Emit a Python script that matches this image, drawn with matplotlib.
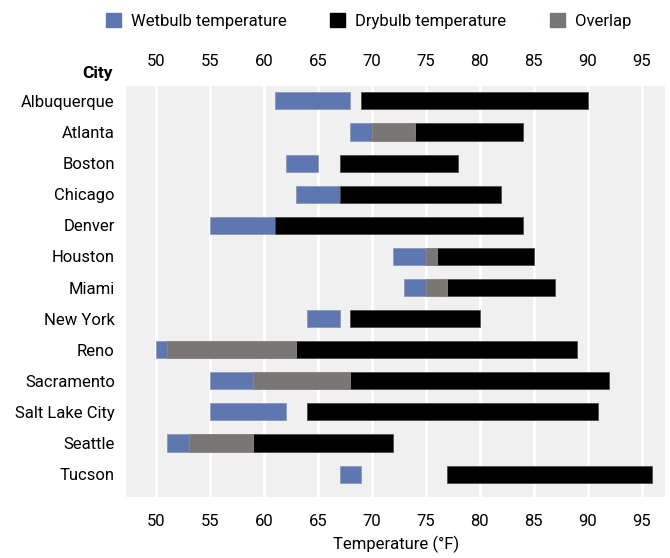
import matplotlib
matplotlib.use("Agg")
import matplotlib.pyplot as plt
from matplotlib.patches import Patch

plt.rcParams['font.family'] = ['Roboto', 'DejaVu Sans']

cities = ["Albuquerque", "Atlanta", "Boston", "Chicago", "Denver", "Houston", "Miami",
          "New York", "Reno", "Sacramento", "Salt Lake City", "Seattle", "Tucson"]
wet_lo = [61, 68, 62, 63, 55, 72, 73, 64, 50, 55, 55, 51, 67]
wet_hi = [68, 74, 65, 67, 61, 76, 77, 67, 63, 68, 62, 59, 69]
dry_lo = [69, 70, 67, 67, 61, 75, 75, 68, 51, 59, 64, 53, 77]
dry_hi = [90, 84, 78, 82, 84, 85, 87, 80, 89, 92, 91, 72, 96]

blue = '#5e77b1'
black = '#000000'
gray = '#7b7676'

fig = plt.figure(figsize=(6.7, 5.58), dpi=100)
ax = fig.add_axes([0.188, 0.109, 0.805, 0.737])
ax.set_facecolor('#f0f0f0')

h = 0.55
for i in range(len(cities)):
    ax.barh(i, wet_hi[i] - wet_lo[i], left=wet_lo[i], height=h, color=blue,
            edgecolor='#8a93b0', linewidth=0.5, zorder=3)
    ax.barh(i, dry_hi[i] - dry_lo[i], left=dry_lo[i], height=h, color=black,
            edgecolor='#444444', linewidth=0.5, zorder=3)
    o0 = max(wet_lo[i], dry_lo[i])
    o1 = min(wet_hi[i], dry_hi[i])
    if o1 > o0:
        ax.barh(i, o1 - o0, left=o0, height=h, color=gray,
                edgecolor='#999999', linewidth=0.5, zorder=4)

ax.set_xlim(47.2, 97.2)
ax.set_ylim(12.74, -0.48)
ax.set_xticks(range(50, 100, 5))
ax.set_yticks(range(len(cities)))
ax.set_yticklabels(cities, fontsize=12)
ax.tick_params(axis='x', labelsize=12, top=True, labeltop=True, length=0, pad=12)
ax.tick_params(axis='y', length=0, pad=8)
ax.grid(axis='x', color='white', linewidth=2, zorder=1)
for s in ax.spines.values():
    s.set_visible(False)

ax.set_xlabel('Temperature (°F)', fontsize=12, labelpad=5)
fig.text(0.145, 0.868, 'City', fontsize=12.5, fontweight='bold', ha='center', va='center')

handles = [Patch(color=blue, label='Wetbulb temperature'),
           Patch(color=black, label='Drybulb temperature'),
           Patch(color=gray, label='Overlap')]
fig.legend(handles=handles, loc='center', bbox_to_anchor=(0.55, 0.962), ncol=3,
           frameon=False, fontsize=12, handlelength=0.9, handleheight=0.9,
           columnspacing=2.6, handletextpad=0.6)

fig.savefig('out.png', dpi=100)
